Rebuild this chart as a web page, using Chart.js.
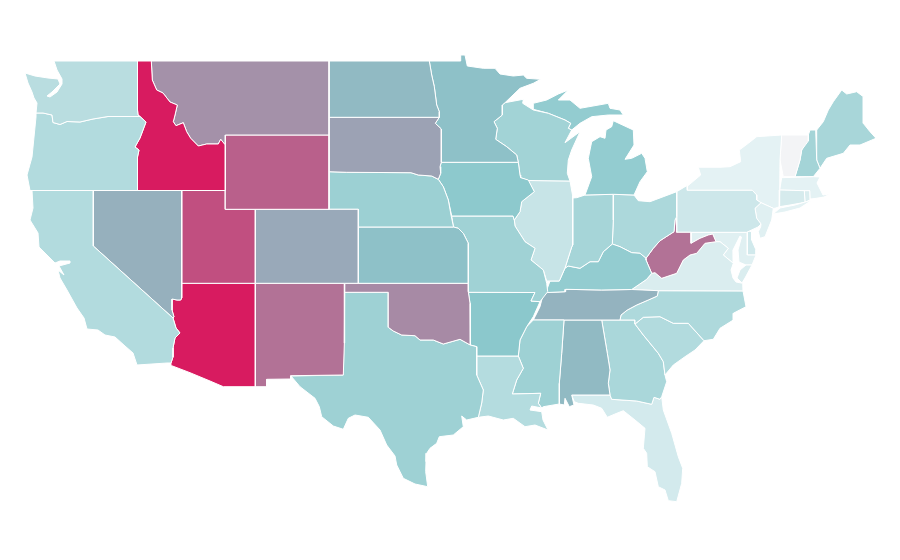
<!DOCTYPE html>
<html>
<head>
<meta charset="utf-8">
<title>US states choropleth</title>
<script src="https://cdn.jsdelivr.net/npm/chart.js@4/dist/chart.umd.min.js"></script>
<style>
  html, body { margin: 0; padding: 0; background: #fff; }
  #wrap { width: 900px; height: 560px; }
</style>
</head>
<body>
<div id="wrap"><canvas id="map" width="900" height="560"></canvas></div>
<script>
/* state names and the value read for each, on a 0-100 colour scale */
const stateNames = ['WA','OR','CA','NV','ID','MT','WY','UT','AZ','CO','NM','ND','SD','NE','KS','OK','TX','MN','IA','MO','AR','LA','WI','IL','MS','MI','MI','IN','KY','TN','AL','OH','WV','VA','VA','NC','SC','GA','FL','PA','MD','DE','NJ','NY','NY','CT','RI','MA','VT','NH','ME'];
const stateValues = [28,31,31,57,100,66,80,85,100,59,75,54,61,42,52,68,41,52,49,40,50,30,39,21,41,46,46,37,46,56,54,34,75,12,12,33,31,35,15,18,9,16,9,7,7,14,12,7,0,38,36];

/* outlines, in map grid units */
const outlines = [
  [[54,61],[137.5,61],[137.5,110],[138,115],[140,116.5],[108,116.5],[93,119],[80,122],[67,121.5],[60,124.5],[53,122.5],[52,115],[43,113],[36,113],[37,103],[34,98],[32,92],[28,83],[25,73],[35,76],[48,78],[58,79],[60,84],[52,92],[47,96],[50,97],[57,92],[62,84],[62,79],[57,70]],
  [[36,113],[43,113],[52,115],[53,122.5],[60,124.5],[67,121.5],[80,122],[93,119],[108,116.5],[140,116.5],[146,122],[143,130],[140,138],[135,147],[139,150],[137.5,157],[137.5,190.5],[30,190.5],[27,175],[32,157],[34,137],[36,117]],
  [[32,190.5],[93.3,190.5],[93.3,246],[173,318],[176,328],[180,333],[175,338],[173,348],[173,357],[171,363],[167,363],[137,365],[133,353],[125,346],[115,337],[105,335],[98,330],[87,329],[84,318],[77,308],[67,290],[60,278],[58,270],[64,275],[59,266],[70,263],[70,261],[60,261],[55,263],[45,253],[39,247],[38,233],[30,220],[33,208]],
  [[93.3,190.5],[181.7,190.5],[181.7,298],[180.7,300],[177,300],[172,299],[172,310],[174,317],[173,318],[93.3,246]],
  [[137.5,61],[151.3,61],[152.3,80],[156.7,90],[163,93],[170,102],[177.3,105],[175,115],[173.3,121.7],[176,125.7],[183.3,122.7],[186.7,131.7],[190.7,138.3],[198.3,146],[206.7,144],[218.3,144],[220.7,139.3],[225.3,145],[225.3,190.5],[137.5,190.5],[137.5,157],[139,150],[135,147],[140,138],[143,130],[146,122],[140,116.5],[138,115],[137.5,110]],
  [[151.3,61],[329,61],[329,135],[225.3,135],[225.3,145],[220.7,139.3],[218.3,144],[206.7,144],[198.3,146],[190.7,138.3],[186.7,131.7],[183.3,122.7],[176,125.7],[173.3,121.7],[175,115],[177.3,105],[170,102],[163,93],[156.7,90],[152.3,80]],
  [[225.3,135],[329,135],[329,209.3],[225.3,209.3]],
  [[181.7,190.5],[225.3,190.5],[225.3,209.3],[255.3,209.3],[255.3,283.3],[181.7,283.3]],
  [[255.3,283.3],[255.3,386.7],[223.3,386.7],[210,381],[190,372.7],[171.7,365.7],[171,363],[173,357],[173,348],[175,338],[180,333],[176,328],[173,318],[174,317],[172,310],[172,299],[177,300],[180.7,300],[181.7,298],[181.7,283.3]],
  [[255.3,209.3],[358.3,209.3],[358.3,283.3],[255.3,283.3]],
  [[255.3,283.3],[344.7,283.3],[344.7,292.3],[344,343],[343.3,375],[290.7,375.7],[290.7,379],[266.7,379.3],[266.7,386.7],[255.3,386.7]],
  [[329,61],[429.3,61],[431.7,75],[434.3,86.7],[436.7,105],[439.3,111.7],[439.3,117.3],[329,117.3]],
  [[329,117.3],[439.3,117.3],[435.3,123.3],[441.3,129],[441.3,162.3],[440,166.7],[440.7,173.3],[438.3,179.3],[431.7,176],[418.3,175],[411,172.7],[346.7,172.3],[329,171.7]],
  [[329,171.7],[346.7,172.3],[411,172.7],[418.3,175],[431.7,176],[438.3,179.3],[443.3,186.7],[448.3,200],[451,215],[453.5,227],[358.3,227],[358.3,209.3],[329,209.3]],
  [[358.3,227],[453.5,227],[458.3,228.3],[463.3,233.3],[468.3,243.3],[468.3,283.3],[358.3,283.3]],
  [[344.7,283.3],[468.3,283.3],[468.3,291.7],[470,303.3],[470.3,345],[460,339.3],[443.3,344],[433.3,340],[420,340],[415,335.7],[401.7,335],[393.3,331],[388.3,327.3],[388.3,292.3],[344.7,292.3]],
  [[344.7,292.3],[388.3,292.3],[388.3,327.3],[393.3,331],[401.7,335],[415,335.7],[420,340],[433.3,340],[443.3,344],[460,339.3],[470.3,345],[476.7,346.7],[476.7,375],[483.3,390],[481.7,403],[478.3,417.3],[466.7,420],[461.7,416],[463.3,426.7],[453.3,435],[439.3,436.7],[436.7,443.3],[430,448.3],[426.7,453.3],[426,461.7],[425.7,471.7],[427.7,486.7],[415,484],[403.3,478.3],[396.7,465],[395,456],[386.7,445],[380,430],[368.3,417.3],[355,415],[348.3,418.3],[343.3,429.3],[333.3,426],[321.7,416.7],[319.3,406.7],[315,398.3],[300,386.7],[291,376],[343.3,375],[344,343]],
  [[429.3,61],[460.7,61],[460.7,55],[465,55],[467.3,66],[483.3,68.3],[495,68.3],[500,74],[513.3,76],[523.3,75],[526.7,78.3],[540.7,79.3],[533.3,83.3],[520,88.3],[505,102.7],[502.3,105],[502.3,115],[494,121.7],[497.3,128.3],[495.7,139.3],[506.7,146.7],[516.7,155],[518.3,162.3],[441.3,162.3],[441.3,129],[435.3,123.3],[439.3,117.3],[439.3,111.7],[436.7,105],[434.3,86.7],[431.7,75]],
  [[441.3,162.3],[518.3,162.3],[520,175],[520.7,177.7],[528.3,180],[534.3,191.7],[521.7,201.7],[520,211.7],[514.3,220],[513,216],[451.7,216],[448.3,200],[443.3,186.7],[438.3,179.3],[440.7,173.3],[440,166.7]],
  [[451.7,216],[513,216],[514.3,220],[515,226],[525,241.7],[535,248.3],[531,260],[543.3,270],[546.7,283.3],[547.7,291.7],[540,301.7],[531,301],[535,292.5],[468.3,292.3],[468.3,243.3],[463.3,233.3],[458.3,228.3],[453.5,227]],
  [[468.3,292.3],[535,292.5],[531,301],[540,301.7],[533.3,316.7],[526.7,326.7],[520,340],[518.3,356],[476.7,356],[476.7,346.7],[470.3,345],[470,303.3]],
  [[476.7,356],[518.3,356],[523.3,368.3],[516.7,380],[512.3,394],[540.7,393.3],[538.3,403.3],[541.7,408],[531.7,406],[530,410],[541.7,411.7],[543,420],[548,430],[535,425],[525,426.7],[513.3,418.3],[503.3,420],[488.3,416],[478.3,417.3],[481.7,403],[483.3,390],[476.7,375]],
  [[505,102.7],[523.3,99.3],[522.7,103.3],[533.3,110],[548.3,113.3],[565,120],[570.7,123.3],[568.3,128.3],[571.7,130],[565,142.7],[580,131.7],[571.7,150],[568.3,160],[567.3,173.3],[570,181],[528.3,180.5],[520.7,177.7],[520,175],[518.3,162.3],[516.7,155],[506.7,146.7],[495.7,139.3],[497.3,128.3],[494,121.7],[502.3,115],[502.3,105]],
  [[528.3,180.5],[570,181],[572.7,196],[572.7,245],[571.7,247],[565,268],[559.3,281],[546.7,281],[543.3,270],[531,260],[535,248.3],[525,241.7],[515,226],[514.3,220],[520,211.7],[521.7,201.7],[534.3,191.7]],
  [[533.3,320],[564,320],[561.7,353.3],[559.3,383.3],[559.3,404],[543.3,406.7],[541.7,408],[538.3,403.3],[540.7,393.3],[512.3,394],[516.7,380],[523.3,368.3],[518.3,356],[520,340],[526.7,326.7]],
  [[533.3,109.3],[533.3,103.3],[546.7,100],[558.3,94],[568.3,90],[558.3,100],[570,100],[580,108.3],[608.3,103.3],[610,108.3],[620,110],[623.3,115],[608.3,115],[591.7,116.7],[580,123.3],[571.7,130],[568.3,128.3],[570.7,123.3],[565,120],[548.3,113.3]],
  [[613.3,120.7],[633.3,130],[634,145],[625,159.3],[631.7,158.3],[641.7,153.3],[645,158.3],[647.3,171.7],[640,181.7],[634,195],[613.3,194.3],[585,195],[591.7,176.7],[588.3,158.3],[591.7,141.7],[600,136.7],[605,138.3],[606,130],[611.7,126.7]],
  [[572.7,198],[576.7,197.7],[585,195],[613.3,194.3],[613.3,220],[612.3,244],[603.3,251.7],[598.3,261.7],[590,261.7],[580,268.3],[568.3,266],[565,268],[571.7,247],[572.7,245]],
  [[544,292.7],[546.7,290],[550,281],[559.3,281],[565,268],[568.3,266],[580,268.3],[590,261.7],[598.3,261.7],[603.3,251.7],[612.3,244],[620,246.7],[631.7,252.7],[640,253.3],[646,258.3],[646,260],[651.7,273.3],[646.7,279.3],[631.7,289.5],[601.7,290],[565.7,289.3],[565,291.7]],
  [[544,292.7],[565,291.7],[565.7,289.3],[601.7,290],[631.7,289.5],[658.3,290.7],[657.3,296],[648.3,300],[636.7,305],[627.3,310],[621,315],[620,320],[533.3,320],[535,316.7],[540,306.7],[541.7,300]],
  [[564,320],[601.7,320],[607.3,353.3],[610,370],[608.3,383.3],[610,395],[571.7,395],[574,405],[569.3,406.7],[565,398.3],[564.3,405],[559.3,404],[559.3,383.3],[561.7,353.3]],
  [[613.3,194.3],[634,195],[638.3,200.7],[650,201.7],[676.7,191.7],[676.7,216.7],[675,220],[674,231.7],[660,240.7],[653.3,248.3],[646,258.3],[640,253.3],[631.7,252.7],[620,246.7],[612.3,244],[613.3,220]],
  [[676,216.7],[676.7,232.3],[691,232.3],[691,243.3],[700,238.3],[708.3,235],[712.7,234],[716,241.7],[705,243.3],[696.7,253.3],[690,255],[683.3,260],[676.7,273.3],[661.7,278.3],[655,272.7],[651.7,273.3],[646,260],[646,258.3],[653.3,248.3],[660,240.7],[674,231.7],[675,220]],
  [[631.7,289.5],[646.7,279.3],[651.7,273.3],[655,272.7],[661.7,278.3],[676.7,273.3],[683.3,260],[690,255],[696.7,253.3],[705,243.3],[716,241.7],[720,241.7],[728.3,248.3],[723.3,255],[733.3,263.3],[731,270],[733,278],[736,282],[742.7,283.3],[743,290.9],[658.3,290.7]],
  [[746,265],[752,265],[745,278],[742,283],[737,278],[740,270]],
  [[620,320],[621,315],[627.3,310],[636.7,305],[648.3,300],[657.3,296],[658.3,290.7],[743,290.9],[746,306.7],[733.3,313.3],[733.3,320],[720,328.3],[713.3,339.3],[704,340.7],[688.3,323.3],[673.3,323.3],[660,316.7],[643.3,317.3],[635,324],[635,320]],
  [[635,324],[643.3,317.3],[660,316.7],[673.3,323.3],[688.3,323.3],[704,340.7],[695,350],[685,356.7],[673.3,365],[665,375],[663.3,361.7],[658.3,353.3],[643.3,335]],
  [[601.7,320],[635,320],[635,324],[643.3,335],[658.3,353.3],[663.3,361.7],[665,375],[666.7,381.7],[661.7,396.7],[660,399.3],[654,397.3],[651.7,404.3],[636.7,401],[611.7,399.3],[610,395],[608.3,383.3],[610,370],[607.3,353.3]],
  [[571.7,395],[610,395],[611.7,399.3],[636.7,401],[651.7,404.3],[654,397.3],[660,399.3],[661.7,396.7],[663.3,410],[671.7,433.3],[678.3,456.7],[682.7,468.3],[681.7,483.3],[676.7,501.7],[668.3,500.7],[665,490],[658.3,486.7],[655,471.7],[647.3,466.7],[646.7,453.3],[643.3,448.3],[645,428.3],[635,420],[623.3,410.7],[615,414],[607.3,417.3],[601.7,408.3],[593.3,405],[578.3,403.3],[574.3,401.7]],
  [[676.7,191.7],[687,185.5],[687.3,190.3],[752.3,190.3],[756.7,195],[756.7,200],[761,202.7],[755,208.3],[756.7,218.3],[761,224],[758,227],[746.7,232.3],[676.7,232.3]],
  [[691,232.3],[747.3,232.3],[747.3,255],[756,255],[752,265],[746,265],[739,262],[738,250],[741.5,237],[740,236],[733,250],[733.3,263.3],[723.3,255],[728.3,248.3],[720,241.7],[716,241.7],[712.7,234],[708.3,235],[700,238.3],[691,243.3]],
  [[747.3,232.3],[748.3,230.7],[751.7,232],[751.7,240],[756,250],[756,255],[747.3,255]],
  [[761,202.7],[773.3,208.3],[771.7,220],[765,236.7],[760,238.3],[758.3,231.7],[760.7,226.7],[761,224],[756.7,218.3],[755,208.3]],
  [[687.3,190.3],[686.7,186.7],[700.7,175],[698.3,167.3],[720,167.3],[730,166.7],[740.7,161.7],[739.3,150],[748.3,143.3],[756.7,136.7],[781.7,135],[780,160],[779.7,190],[779.3,206.7],[775,208.3],[773.3,208.3],[761,202.7],[756.7,200],[756.7,195],[752.3,190.3]],
  [[773,214],[780,208],[795,205],[812,200],[800,208],[785,212]],
  [[779.7,190],[804.3,190.7],[805,202.3],[790,205],[779.3,206.7]],
  [[804.3,190.7],[809.7,190.7],[810,200],[805,202.3]],
  [[781.7,177.7],[813.3,176.7],[820,177],[817,183],[823,195],[830,194],[824,197],[815,198.5],[810,199],[809.7,190.7],[804.3,190.7],[779.7,190]],
  [[781.7,135],[808.3,135],[808.3,141],[801.7,150],[800,160],[795,176.7],[783.3,176.7],[780,160]],
  [[810,130],[815.7,130],[816.7,160],[820,168.3],[813.3,176.7],[795,176.7],[800,160],[801.7,150],[808.3,135]],
  [[816.7,130],[823.3,121.7],[828.3,110],[833.3,101.7],[841.7,90],[846.7,94],[856.7,91.7],[863.3,96.7],[863.3,123.3],[870,131.7],[876,138.3],[860,145],[850,145],[843.3,153.3],[826.7,158.3],[820,168.3],[816.7,160]]
];

const rampStops = [0, 7, 50, 100];
const rampColors = [[243, 244, 246], [228, 242, 244], [139, 200, 204], [216, 27, 96]];

function valueColor(v) {
  let i = 0;
  while (i < rampStops.length - 2 && v > rampStops[i + 1]) i++;
  const t = (v - rampStops[i]) / (rampStops[i + 1] - rampStops[i]);
  const c = rampColors[i].map((f, k) => Math.round(f + (rampColors[i + 1][k] - f) * t));
  return `rgb(${c[0]},${c[1]},${c[2]})`;
}

const datasets = outlines.map((o, i) => ({
  label: stateNames[i],
  // repeat the first vertex so the white border closes
  data: o.concat([o[0]]).map(p => ({ x: p[0], y: p[1] })),
  showLine: true,
  fill: 'shape',
  tension: 0,
  backgroundColor: valueColor(stateValues[i]),
  borderColor: '#ffffff',
  borderWidth: 1,
  borderJoinStyle: 'round',
  pointRadius: 0,
  pointHoverRadius: 0
}));

new Chart(document.getElementById('map').getContext('2d'), {
  type: 'scatter',
  data: { datasets },
  options: {
    responsive: false,
    animation: false,
    layout: { padding: 0 },
    plugins: { legend: { display: false }, tooltip: { enabled: false }, title: { display: false } },
    scales: {
      x: { type: 'linear', display: false, min: 0, max: 900 },
      y: { type: 'linear', display: false, min: 0, max: 560, reverse: true }
    }
  }
});
</script>
</body>
</html>
